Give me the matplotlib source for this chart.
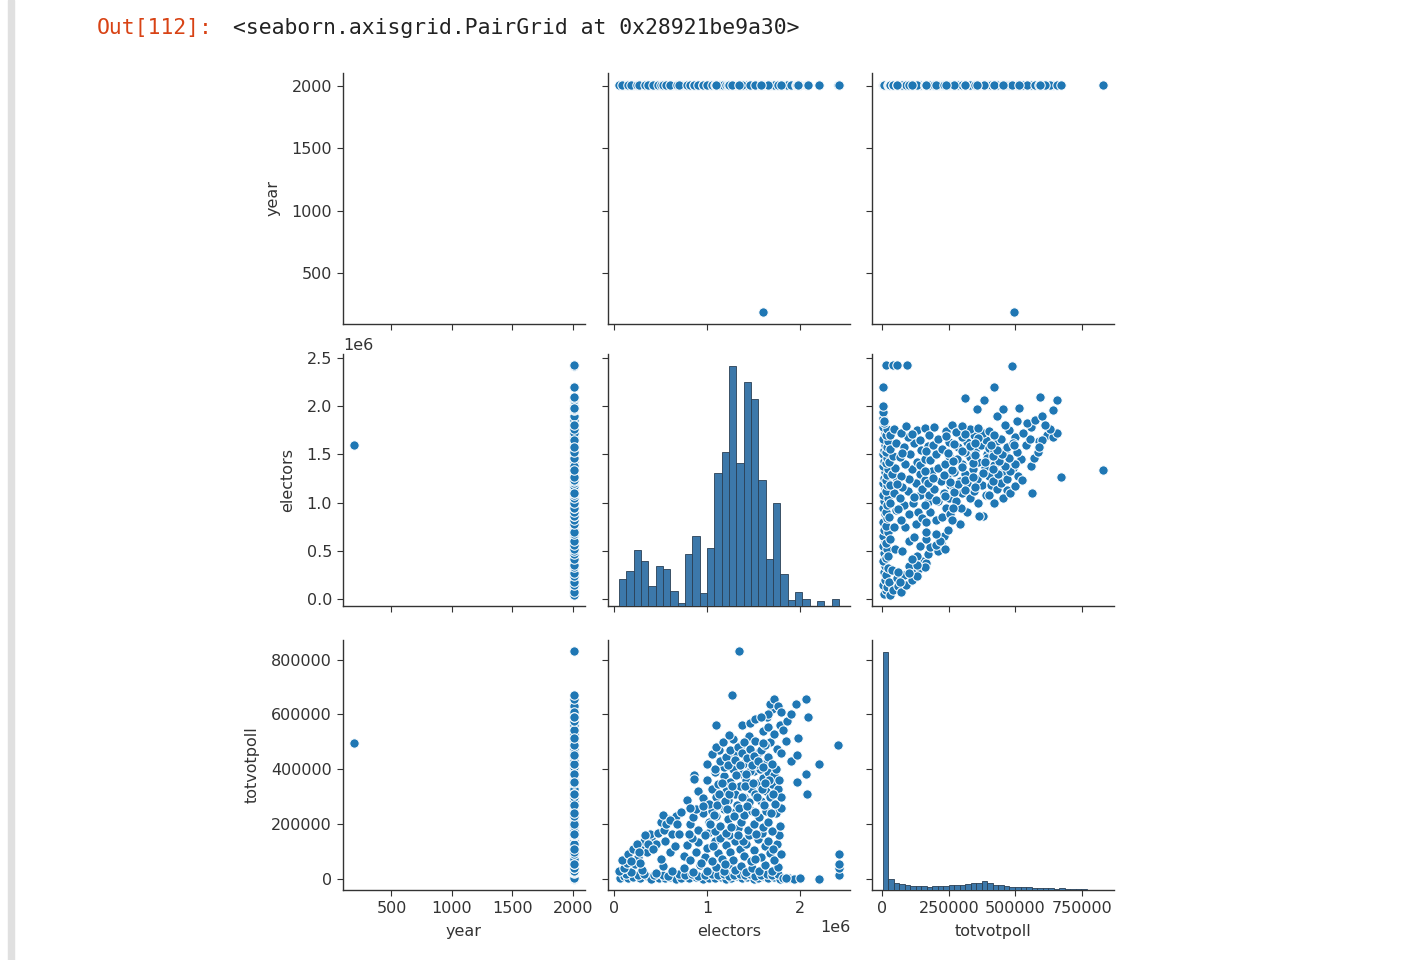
import numpy as np
import matplotlib
matplotlib.use("Agg")
import matplotlib.pyplot as plt
from matplotlib.patches import Rectangle
from matplotlib.ticker import MultipleLocator

# scatter rows, electors / totvotpoll in thousands
electors_k = [
    # totvotpoll near zero
    60, 100, 150, 200, 280, 350, 400, 480, 550, 600, 660, 720, 800, 880, 950, 1020, 1080,
    1150, 1200, 1260, 1320, 1380, 1430, 1500, 1550, 1600, 1660, 1720, 1780, 1880, 1940, 2000, 2200, 2420,
    130, 250, 320, 430, 520, 580, 700, 760, 840, 900, 980, 1050, 1120, 1180, 1230, 1290, 1350,
    1410, 1460, 1520, 1580, 1640, 1700, 1760, 1820, 1850,
    # 20k - 60k
    50, 120, 180, 220, 300, 450, 520, 620, 750, 850, 920, 1000, 1100, 1180, 1240, 1300, 1360,
    1420, 1480, 1560, 1620, 1700, 1760, 2420, 100, 140,
    # 60k - 200k
    80, 150, 200, 250, 300, 350, 320, 400, 380, 450, 280, 180, 500, 600, 550, 650, 750, 780,
    820, 880, 900, 980, 1000, 1050, 1080, 1120, 1160, 1200, 1250, 1280, 1300, 1350, 1400, 1420,
    1470, 1500, 1550, 1580, 1620, 1680, 1720, 1750, 2420,
    840, 930, 1010, 1060, 1140, 1190, 1230, 1330, 1390, 1450, 1510, 1590, 1650, 1710, 1770, 1790,
    240, 270, 330, 360, 420, 470, 540, 580, 620, 660,
    # 150k - 260k
    500, 520, 560, 600, 680, 720, 800, 820, 850, 900, 950, 980, 1020, 1050, 1080, 1100, 1140,
    1180, 1200, 1220, 1260, 1300, 1330, 1360, 1400, 1440, 1480, 1500, 1530, 1560, 1600, 1630,
    1660, 1700, 1740, 1780, 1800, 700, 880,
    # 260k - 400k
    780, 820, 860, 860, 900, 950, 1000, 1020, 1050, 1080, 1100, 1120, 1150, 1180, 1200, 1220,
    1250, 1280, 1300, 1320, 1350, 1370, 1400, 1420, 1450, 1470, 1500, 1520, 1550, 1580, 1600,
    1630, 1650, 1680, 1700, 1730, 1760, 1790, 1720, 950,
    # dense middle of the cloud
    1030, 1070, 1110, 1130, 1160, 1190, 1210, 1240, 1270, 1290, 1310, 1340, 1370, 1390, 1410,
    1430, 1460, 1490, 1510, 1540, 1570, 1590, 1610, 1640, 1670, 1690, 1710, 1740, 1770, 1130,
    1260, 1360, 1450, 1560, 1680, 1180, 1320, 1420, 1530, 1620,
    # 400k - 520k
    1000, 1050, 1080, 1100, 1140, 1170, 1200, 1220, 1250, 1280, 1300, 1330, 1350, 1380, 1400,
    1430, 1460, 1480, 1500, 1520, 1550, 1580, 1600, 1620, 1660, 1700, 1750, 1800, 1850, 1900,
    # 520k and up
    1100, 1240, 1380, 1460, 1520, 1600, 1640, 1660, 1720, 1780, 1820, 1860, 1900, 1960, 1700,
    1680, 1720, 1760, 1650, 1800, 2060, 1270, 1340, 1580,
    # right hand stragglers
    2410, 2200, 2060, 1970, 2080, 1970, 1980, 2090, 2420,
    # the odd year row
    1600,
]
totvotpoll_k = [
    5, 12, 3, 8, 4, 10, 2, 6, 3, 9, 2, 5, 3, 8, 2, 6, 3,
    9, 2, 5, 10, 3, 7, 2, 6, 10, 3, 8, 2, 3, 2, 3, 2, 15,
    18, 15, 20, 14, 17, 12, 20, 14, 18, 12, 16, 20, 14, 18, 12, 17, 20,
    14, 18, 12, 17, 20, 14, 18, 5, 4,
    30, 40, 25, 55, 35, 22, 48, 28, 42, 25, 50, 30, 45, 28, 55, 35, 48,
    25, 40, 30, 50, 28, 45, 40, 40, 60,
    70, 90, 110, 80, 125, 100, 140, 150, 165, 130, 60, 65, 75, 100, 140, 120, 85, 125,
    70, 100, 135, 80, 115, 65, 140, 95, 75, 125, 100, 70, 140, 110, 85, 130,
    65, 105, 145, 80, 120, 95, 70, 130, 92,
    150, 60, 170, 120, 150, 55, 160, 185, 140, 160, 75, 170, 140, 110, 160, 90,
    130, 100, 160, 130, 110, 170, 180, 220, 165, 230,
    210, 235, 200, 215, 200, 245, 165, 200, 225, 180, 240, 160, 210, 250, 175, 230, 195,
    255, 170, 220, 190, 245, 160, 210, 235, 180, 250, 200, 165, 225, 190, 250,
    210, 175, 240, 195, 260, 165, 255,
    290, 260, 380, 365, 320, 295, 360, 275, 330, 390, 300, 345, 270, 375, 320, 290,
    355, 400, 310, 270, 340, 385, 300, 360, 280, 330, 395, 310, 350, 285, 370,
    320, 390, 300, 345, 275, 330, 300, 380, 265,
    200, 235, 270, 310, 350, 285, 255, 310, 340, 230, 380, 260, 300, 420, 340,
    265, 395, 350, 245, 300, 400, 330, 270, 430, 360, 240, 310, 400, 360, 470,
    440, 490, 520, 465, 500, 410, 455, 385, 420, 350,
    420, 455, 400, 480, 430, 500, 445, 415, 470, 510, 435, 480, 415, 460, 500,
    440, 475, 415, 450, 505, 430, 470, 410, 490, 445, 420, 475, 460, 505, 430,
    562, 525, 560, 570, 585, 540, 590, 555, 530, 560, 545, 575, 600, 640, 620,
    640, 655, 630, 600, 610, 655, 672, 830, 590,
    489, 421, 382, 354, 311, 452, 513, 592, 55,
    495,
]
year = [2009] * (len(electors_k) - 1) + [190]

electors = np.array(electors_k) * 1000
totvotpoll = np.array(totvotpoll_k) * 1000

# diagonal histograms, bar heights
electors_counts = [27, 35, 56, 45, 20, 40, 37, 15, 3, 52, 70, 13, 58, 132, 153,
                   239, 142, 223, 206, 125, 47, 103, 32, 6, 14, 7, 0, 5, 0, 7]
totvotpoll_counts = [722, 32, 22, 18, 15, 13, 12, 11, 10, 11, 12, 13, 14, 16, 15, 18, 20, 22, 26, 20,
                     14, 16, 12, 10, 9, 8, 8, 6, 7, 5, 5, 4, 5, 3, 3, 2, 2, 1, 0, 1]

names = ['year', 'electors', 'totvotpoll']
data = {'year': np.array(year), 'electors': electors, 'totvotpoll': totvotpoll}
hists = {'electors': electors_counts, 'totvotpoll': totvotpoll_counts}

W, H = 1408, 960
fig = plt.figure(figsize=(W / 100, H / 100), dpi=100)

col_left = [343, 608, 872]
col_width = 242
row_top = [73.5, 354, 640]
row_height = [250, 252, 250]

axes = [[None] * 3 for _ in range(3)]
for i in range(3):
    for j in range(3):
        rect = [col_left[j] / W, 1 - (row_top[i] + row_height[i]) / H,
                col_width / W, row_height[i] / H]
        sx = axes[0][j] if i > 0 else None
        sy = axes[i][0] if j > 0 else None
        axes[i][j] = fig.add_axes(rect, sharex=sx, sharey=sy)

fs = 11.5
for i in range(3):
    for j in range(3):
        ax = axes[i][j]
        if i != j:
            ax.scatter(data[names[j]], data[names[i]], s=46, c='#1f77b4',
                       edgecolors='white', linewidths=0.75, zorder=3)
        elif names[i] in hists:
            counts = hists[names[i]]
            vals = data[names[i]]
            edges = np.linspace(vals.min(), vals.max(), len(counts) + 1)
            tw = ax.twinx()
            tw.bar(edges[:-1], counts, width=np.diff(edges), align='edge',
                   color='#3c78aa', edgecolor='#2a3f55', linewidth=0.6)
            tw.set_axis_off()
        for s in ['top', 'right']:
            ax.spines[s].set_visible(False)
        for s in ['left', 'bottom']:
            ax.spines[s].set_linewidth(1.0)
            ax.spines[s].set_color('#333333')
        ax.tick_params(labelsize=fs, colors='#333333', length=4.5)
        if i < 2:
            ax.tick_params(labelbottom=False)
            ax.xaxis.offsetText.set_visible(False)
        else:
            ax.set_xlabel(names[j], fontsize=fs, color='#333333', labelpad=6)
        if j > 0:
            ax.tick_params(labelleft=False)
            ax.yaxis.offsetText.set_visible(False)
        else:
            ax.set_ylabel(names[i], fontsize=fs, color='#333333', labelpad=8)
        ax.xaxis.offsetText.set_fontsize(fs)
        ax.yaxis.offsetText.set_fontsize(fs)

axes[2][2].xaxis.set_major_locator(MultipleLocator(250000))

# notebook chrome around the figure
fig.patches.append(Rectangle((8 / W, 0), 6 / W, 1, transform=fig.transFigure,
                             color='#e0e0e0', zorder=0))
fig.text(97 / W, 1 - 28 / H, 'Out[112]:', color='#D84315', family='DejaVu Sans Mono',
         fontsize=15.4, va='center')
fig.text(233 / W, 1 - 28 / H, '<seaborn.axisgrid.PairGrid at 0x28921be9a30>', color='#222222',
         family='DejaVu Sans Mono', fontsize=15.4, va='center')

fig.savefig('out.png', dpi=100)
